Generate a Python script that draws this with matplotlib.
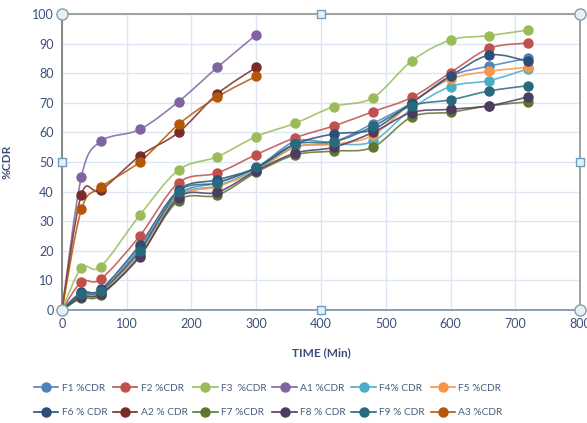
import numpy as np
import matplotlib
matplotlib.use('Agg')
from matplotlib import pyplot as plt
from matplotlib.path import Path
from matplotlib.patches import PathPatch
from matplotlib.lines import Line2D

plt.rcParams['font.family'] = ['Lato', 'DejaVu Sans']

# time points (min)
t_long = [0, 30, 60, 120, 180, 240, 300, 360, 420, 480, 540, 600, 660, 720]
t_short = [0, 30, 60, 120, 180, 240, 300]

# %CDR values
F1 = [0, 5, 6, 21, 39, 43, 48, 57, 57, 63, 70, 79, 82.4, 85]
F2 = [0, 9.5, 10.5, 25, 43, 46.3, 52.5, 58.2, 62.2, 67, 71.8, 80.2, 88.4, 90.2]
F3 = [0, 14.2, 14.7, 32, 47.3, 51.8, 58.6, 63.1, 68.7, 71.7, 84.1, 91.2, 92.7, 94.6]
A1 = [0, 45, 57, 61, 70.4, 82, 93]
F4 = [0, 5.5, 6, 20, 38.5, 42, 47.5, 55, 56, 57, 68, 75.5, 77.5, 81.5]
F5 = [0, 5, 5.5, 19.5, 38, 41.7, 47, 55, 56, 59, 70, 78, 80.6, 82]
F6 = [0, 6, 7, 22, 40.5, 44, 48, 56, 59.5, 61, 70, 79, 86.1, 84]
A2 = [0, 39, 40.5, 52, 60, 73, 82]
F7 = [0, 4, 5, 18.5, 37, 38.8, 46.5, 52.4, 53.7, 55, 65.2, 66.8, 69, 70.3]
F8 = [0, 4.5, 5.5, 18, 38, 39.8, 47, 53, 55, 60, 66.7, 67.8, 69, 72]
F9 = [0, 5.5, 6.5, 20, 40, 43, 48.2, 56, 56.8, 62, 69, 71, 74, 75.8]
A3 = [0, 34, 41.5, 50, 62.7, 72, 79]

names = ['F1 %CDR', 'F2 %CDR', 'F3  %CDR', 'A1 %CDR', 'F4% CDR', 'F5 %CDR',
         'F6 % CDR', 'A2 % CDR', 'F7 %CDR', 'F8 % CDR', 'F9 % CDR', 'A3 %CDR']
series = [F1, F2, F3, A1, F4, F5, F6, A2, F7, F8, F9, A3]
colors = ['#4F81BD', '#C0504D', '#9BBB59', '#8064A2', '#4BACC6', '#F79646',
          '#2C4D75', '#772C2A', '#5F7530', '#4D3B62', '#276A7C', '#B65708']


def smooth_path(xs, ys):
    # excel-like smoothed line as cubic bezier segments
    p = np.column_stack([xs, ys]).astype(float)
    n = len(p)
    verts = [p[0]]
    codes = [Path.MOVETO]
    for i in range(n - 1):
        p0 = p[i - 1] if i > 0 else p[i]
        p3 = p[i + 2] if i + 2 < n else p[i + 1]
        c1 = p[i] + (p[i + 1] - p0) / 6
        c2 = p[i + 1] - (p3 - p[i]) / 6
        verts += [c1, c2, p[i + 1]]
        codes += [Path.CURVE4] * 3
    return Path(verts, codes)


fig = plt.figure(figsize=(5.87, 4.23), dpi=100)
ax = fig.add_axes([0.1056, 0.267, 0.8825, 0.700])

handles = []
for name, ys, c in zip(names, series, colors):
    xs = t_long if len(ys) == len(t_long) else t_short
    ax.add_patch(PathPatch(smooth_path(xs, ys), fill=False, edgecolor=c,
                           lw=1.2, alpha=0.85, zorder=3))
    ax.plot(xs, ys, 'o', color=c, ms=6.5, mec=c, zorder=4)
    handles.append(Line2D([], [], color=c, lw=1.2, marker='o', ms=6.5))

ax.set_xlim(0, 800)
ax.set_ylim(0, 100)
ax.set_xticks(range(0, 801, 100))
ax.set_yticks(range(0, 101, 10))
ax.grid(True, color='#DCE6F2', lw=1)
ax.set_axisbelow(True)
ax.tick_params(length=0, labelsize=9, labelcolor='#3B5079', pad=6)
for s in ax.spines.values():
    s.set_color('#9A9A9A')
    s.set_linewidth(1.3)
ax.spines['left'].set_color('#7F7F7F')
ax.spines['bottom'].set_color('#8497B0')

ax.set_xlabel('TIME (Min)', fontsize=8.5, fontweight='bold', color='#3B5079', labelpad=12)
ax.set_ylabel('%CDR', fontsize=8.5, fontweight='bold', color='#3B5079', labelpad=14)

# selection handles of the plot area
for hx, hy in [(0, 0), (0, 1), (1, 0), (1, 1)]:
    ax.plot(hx, hy, 'o', transform=ax.transAxes, ms=8, mfc='#E3F2F7', mec='#8C9AA8',
            mew=1, clip_on=False, zorder=10)
for hx, hy in [(0.5, 0), (0.5, 1), (0, 0.5), (1, 0.5)]:
    ax.plot(hx, hy, 's', transform=ax.transAxes, ms=6, mfc='#E3F2F7', mec='#6F9CC0',
            mew=1, clip_on=False, zorder=10)

# legend: two rows, matplotlib fills column by column
order = [0, 6, 1, 7, 2, 8, 3, 9, 4, 10, 5, 11]
leg = fig.legend([handles[i] for i in order], [names[i] for i in order],
                 loc='center', bbox_to_anchor=(0.457, 0.053), ncol=6, frameon=False,
                 fontsize=7.3, handlelength=2.4, handletextpad=0.35,
                 columnspacing=0.55, labelspacing=1.5)
for txt in leg.get_texts():
    txt.set_color('#4A5C7E')

fig.savefig('out.png', dpi=100)
